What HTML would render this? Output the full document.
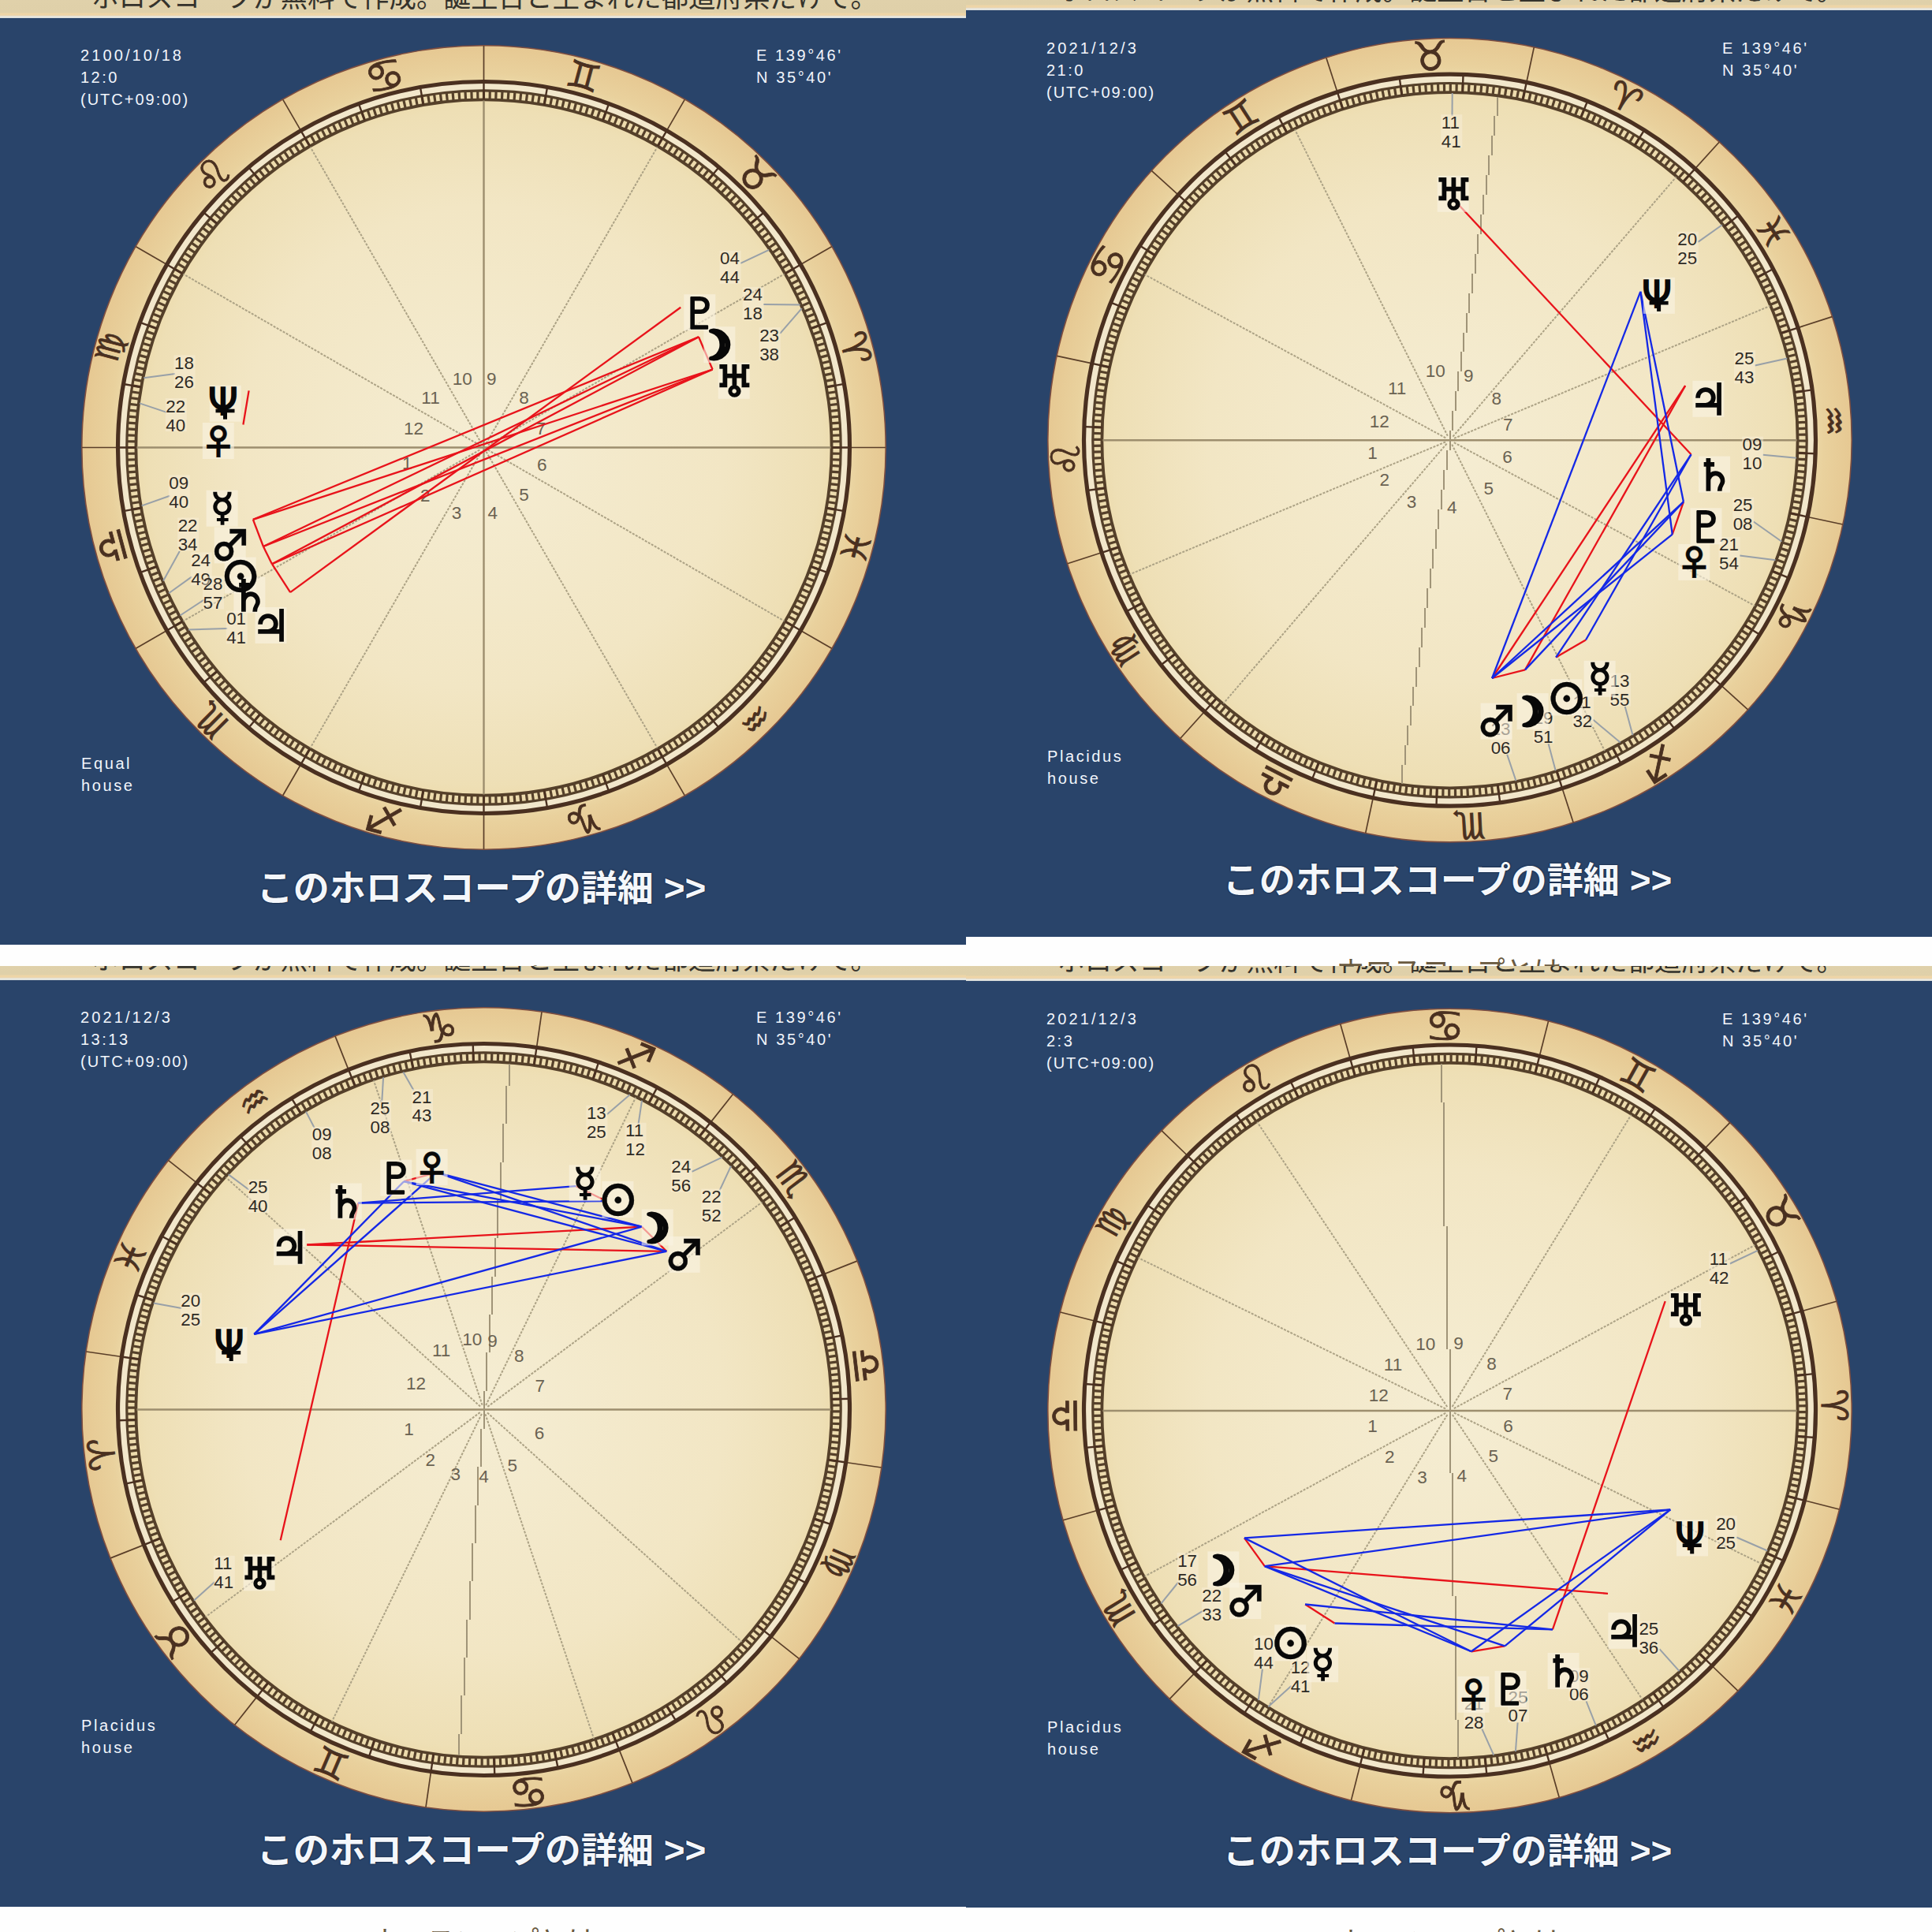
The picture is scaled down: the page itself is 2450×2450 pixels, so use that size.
<!DOCTYPE html><html><head><meta charset="utf-8"><style>

*{margin:0;padding:0;box-sizing:border-box}
html,body{width:2450px;height:2450px;overflow:hidden;background:#fff}
.q{position:absolute;width:1225px;height:1225px;overflow:hidden;background:#fefefe}
.strip{position:absolute;left:0;width:1225px;height:60px;background:linear-gradient(180deg,#e2d3ad 0px,#dfd0a9 53px,#eed6a8 54px,#efd4a5 56px,#e4dccb 57.5px,#eef0ea 58px,#eceee8 59.3px,#9aa0a6 60px);}
.strip span{position:absolute;left:116px;top:17.5px;font-family:"Liberation Sans","Noto Sans CJK JP",sans-serif;font-size:34.5px;line-height:1;color:#35332c;white-space:nowrap}
.panel{position:absolute;left:0;width:1225px;height:1175px;background:#29446a}
.t{position:absolute;font-family:"Liberation Sans",sans-serif;font-size:20px;line-height:28.2px;color:#f2f6fc;letter-spacing:2.6px;white-space:nowrap}
.dt{left:102px}.ll{left:959px}.hs{left:103px}
.lk{position:absolute;left:0;width:1225px;text-align:center;font-family:"Liberation Sans","Noto Sans CJK JP",sans-serif;font-weight:bold;font-size:46px;line-height:60px;color:#f4f7fb;white-space:nowrap;text-indent:-4px;text-shadow:0 0 2px #0c1830,0 0 1px #0c1830}
.below{position:absolute;left:0;width:1225px;text-align:center;font-family:"Liberation Sans","Noto Sans CJK JP",sans-serif;font-size:36px;line-height:46px;color:#6a5a40;white-space:nowrap}
.ch{position:absolute;left:0;top:0}
.zs{font-family:"DejaVu Sans",sans-serif;fill:#4a3020;stroke:#4a3020;stroke-width:0.8px}
.pg{font-family:"DejaVu Sans",sans-serif;fill:#080808;stroke:#080808;stroke-width:1.7px}
.pn{font-family:"Noto Sans CJK JP",sans-serif;font-weight:bold;stroke-width:0.4px}
.pm{stroke-width:5px;stroke-linejoin:round}
.lb{font-family:"Liberation Sans",sans-serif;font-size:22.3px;fill:#2e2a24}
.ld{stroke:#98a0a8;stroke-width:2}
.hl{stroke:#aca285;stroke-width:2;stroke-dasharray:3 1.6}
.ax{stroke:#9d8e6e;stroke-width:2.4}
.mc{stroke:#a09478;stroke-width:2;stroke-linejoin:miter}
.as{stroke-width:2.3}
.hn{font-family:"Liberation Sans",sans-serif;font-size:22.5px;fill:#6a6252;text-anchor:middle}
.lbg{fill:#f8f0dc;fill-opacity:0.45}
.gbg{fill:#faf3e2;fill-opacity:0.6}

</style></head><body>
<div class="q" style="left:0px;top:0px">
<div class="strip" style="top:-37.5px"><span>ホロスコープが無料で作成。誕生日と生まれた都道府県だけで。</span></div>
<div class="panel" style="top:22.5px"></div>
<div class="t dt" style="top:56px"><span style="letter-spacing:3.1px">2100/10/18</span><br><span style="letter-spacing:2.5px">12:0</span><br><span style="letter-spacing:2.0px">(UTC+09:00)</span></div>
<div class="t ll" style="top:56px">E 139°46'<br>N 35°40'</div>
<div class="t hs" style="top:954px">Equal<br>house</div>
<div class="lk" style="top:1095.5px">このホロスコープの詳細 &gt;&gt;</div>
<div class="below" style="top:1219.5px">ホロスコープとは</div>
<svg class="ch" width="1225" height="1225" viewBox="0 0 1225 1225" xmlns="http://www.w3.org/2000/svg">
<defs><radialGradient id="pga" cx="613.5" cy="567.5" r="510.5" gradientUnits="userSpaceOnUse"><stop offset="0" stop-color="#f5edd3"/><stop offset="0.6" stop-color="#f2e6c4"/><stop offset="0.84" stop-color="#eedfb5"/><stop offset="0.9" stop-color="#ecd9a8"/><stop offset="0.93" stop-color="#e9d19d"/><stop offset="1" stop-color="#e6c892"/></radialGradient></defs>
<circle cx="613.5" cy="567.5" r="509.7" fill="url(#pga)" stroke="#7e4e40" stroke-width="1.6"/>
<circle cx="613.5" cy="567.5" r="458.4" fill="none" stroke="#f2e7cb" stroke-width="9.3"/>
<line x1="1077.5" y1="567.5" x2="1123" y2="567.5" stroke="#5a3e28" stroke-width="1.7"/>
<line x1="1015.3" y1="335.5" x2="1054.7" y2="312.8" stroke="#5a3e28" stroke-width="1.7"/>
<line x1="845.5" y1="165.7" x2="868.2" y2="126.3" stroke="#5a3e28" stroke-width="1.7"/>
<line x1="613.5" y1="103.5" x2="613.5" y2="58" stroke="#5a3e28" stroke-width="1.7"/>
<line x1="381.5" y1="165.7" x2="358.8" y2="126.3" stroke="#5a3e28" stroke-width="1.7"/>
<line x1="211.7" y1="335.5" x2="172.3" y2="312.8" stroke="#5a3e28" stroke-width="1.7"/>
<line x1="149.5" y1="567.5" x2="104" y2="567.5" stroke="#5a3e28" stroke-width="1.7"/>
<line x1="211.7" y1="799.5" x2="172.3" y2="822.2" stroke="#5a3e28" stroke-width="1.7"/>
<line x1="381.5" y1="969.3" x2="358.7" y2="1008.7" stroke="#5a3e28" stroke-width="1.7"/>
<line x1="613.5" y1="1031.5" x2="613.5" y2="1077" stroke="#5a3e28" stroke-width="1.7"/>
<line x1="845.5" y1="969.3" x2="868.2" y2="1008.7" stroke="#5a3e28" stroke-width="1.7"/>
<line x1="1015.3" y1="799.5" x2="1054.7" y2="822.3" stroke="#5a3e28" stroke-width="1.7"/>
<circle cx="613.5" cy="567.5" r="464" fill="none" stroke="#4a3020" stroke-width="5.2"/>
<circle cx="613.5" cy="567.5" r="452.7" fill="none" stroke="#55402a" stroke-width="3.2"/>
<circle cx="613.5" cy="567.5" r="441.1" fill="none" stroke="#55402a" stroke-width="3.8"/>
<circle cx="613.5" cy="567.5" r="446.9" fill="none" stroke="#55402a" stroke-width="11.6" pathLength="3600" stroke-dasharray="4.1 5.9" stroke-dashoffset="2.05" transform="rotate(-0 613.5 567.5)"/>
<circle cx="613.5" cy="567.5" r="452.6" fill="none" stroke="#4a3020" stroke-width="22.9" pathLength="3600" stroke-dasharray="3 97" stroke-dashoffset="1.5" transform="rotate(-0 613.5 567.5)"/>
<text x="1064.5" y="458.4" font-size="46.8" transform="rotate(75 1085.4 441.1)" class="zs">♈︎</text>
<text x="936.1" y="241.1" font-size="51.4" transform="rotate(45 958.9 222.1)" class="zs">♉︎</text>
<text x="719.2" y="113.1" font-size="47.2" transform="rotate(15 739.9 95.6)" class="zs">♊︎</text>
<text x="462.4" y="115.8" font-size="56.1" transform="rotate(-15 487.1 95.6)" class="zs">♋︎</text>
<text x="245.5" y="241.1" font-size="51.4" transform="rotate(-45 268.1 222.1)" class="zs">♌︎</text>
<text x="123.4" y="452.6" font-size="41.1" transform="rotate(-75 141.6 441.1)" class="zs">♍︎</text>
<text x="119" y="712.2" font-size="51.4" transform="rotate(-105 141.6 693.9)" class="zs">♎︎</text>
<text x="247.8" y="927.8" font-size="45.7" transform="rotate(-135 268.1 912.9)" class="zs">♏︎</text>
<text x="464.2" y="1058.4" font-size="51.4" transform="rotate(-165 487.1 1039.4)" class="zs">♐︎</text>
<text x="717.3" y="1058.4" font-size="51.4" transform="rotate(-195 739.9 1039.4)" class="zs">♑︎</text>
<text x="939.5" y="929.3" font-size="43.7" transform="rotate(-225 958.9 912.9)" class="zs">♒︎</text>
<text x="1065.2" y="710.9" font-size="45.8" transform="rotate(-255 1085.4 693.9)" class="zs">♓︎</text>
<line x1="608.3" y1="570.5" x2="232.4" y2="787.6" class="hl"/>
<line x1="610.5" y1="572.7" x2="393.4" y2="948.6" class="hl"/>
<line x1="616.5" y1="572.7" x2="833.6" y2="948.6" class="hl"/>
<line x1="618.7" y1="570.5" x2="994.6" y2="787.6" class="hl"/>
<line x1="618.7" y1="564.5" x2="994.6" y2="347.5" class="hl"/>
<line x1="616.5" y1="562.3" x2="833.6" y2="186.4" class="hl"/>
<line x1="610.5" y1="562.3" x2="393.5" y2="186.4" class="hl"/>
<line x1="608.3" y1="564.5" x2="232.4" y2="347.5" class="hl"/>
<line x1="173.4" y1="567.5" x2="1053.6" y2="567.5" class="ax"/>
<line x1="613.5" y1="127.4" x2="613.5" y2="1007.6" class="ax"/>
<text x="516.3" y="594.5" class="hn">1</text>
<text x="539.2" y="635.5" class="hn">2</text>
<text x="579" y="658.4" class="hn">3</text>
<text x="624.7" y="658.4" class="hn">4</text>
<text x="664.4" y="634.8" class="hn">5</text>
<text x="687.3" y="596.5" class="hn">6</text>
<text x="686" y="551.4" class="hn">7</text>
<text x="664.4" y="511.8" class="hn">8</text>
<text x="623.3" y="488.2" class="hn">9</text>
<text x="586.3" y="488.2" class="hn">10</text>
<text x="546" y="511.8" class="hn">11</text>
<text x="524.4" y="550.8" class="hn">12</text>
<line x1="975.2" y1="316.8" x2="939.1" y2="333.9" class="ld"/>
<line x1="1014.6" y1="386.4" x2="968.1" y2="386" class="ld"/>
<line x1="1016.7" y1="391.1" x2="989.2" y2="422.8" class="ld"/>
<line x1="182.3" y1="479.2" x2="222" y2="474" class="ld"/>
<line x1="177" y1="511.4" x2="211.3" y2="522.9" class="ld"/>
<line x1="179.7" y1="641.4" x2="215.3" y2="628.8" class="ld"/>
<line x1="207.1" y1="736.4" x2="227.8" y2="699" class="ld"/>
<line x1="214.1" y1="752.2" x2="243.2" y2="731.4" class="ld"/>
<line x1="228.4" y1="780.5" x2="258.6" y2="760.7" class="ld"/>
<line x1="239" y1="798.6" x2="288.2" y2="796.9" class="ld"/>
<line x1="863.2" y1="389.8" x2="368.1" y2="751.1" stroke="#e8131b" class="as"/>
<line x1="886" y1="427.3" x2="320.9" y2="658.8" stroke="#e8131b" class="as"/>
<line x1="886" y1="427.3" x2="333.9" y2="693" stroke="#e8131b" class="as"/>
<line x1="886" y1="427.3" x2="344.9" y2="715.2" stroke="#e8131b" class="as"/>
<line x1="903.6" y1="468.5" x2="320.9" y2="658.8" stroke="#e8131b" class="as"/>
<line x1="903.6" y1="468.5" x2="333.9" y2="693" stroke="#e8131b" class="as"/>
<line x1="903.6" y1="468.5" x2="344.9" y2="715.2" stroke="#e8131b" class="as"/>
<line x1="886" y1="427.3" x2="903.6" y2="468.5" stroke="#e8131b" class="as"/>
<line x1="320.9" y1="658.8" x2="333.9" y2="693" stroke="#e8131b" class="as"/>
<line x1="333.9" y1="693" x2="344.9" y2="715.2" stroke="#e8131b" class="as"/>
<line x1="344.9" y1="715.2" x2="368.1" y2="751.1" stroke="#e8131b" class="as"/>
<line x1="315.6" y1="495.4" x2="308.4" y2="538.5" stroke="#e8131b" class="as"/>
<rect x="912.6" y="317.8" width="27" height="42" class="lbg"/>
<text x="913.1" y="335.3" class="lb">04<tspan x="913.1" dy="23.9">44</tspan></text>
<rect x="941.6" y="363.9" width="27" height="42" class="lbg"/>
<text x="942.1" y="381.4" class="lb">24<tspan x="942.1" dy="23.9">18</tspan></text>
<rect x="962.7" y="415.2" width="27" height="42" class="lbg"/>
<text x="963.2" y="432.7" class="lb">23<tspan x="963.2" dy="23.9">38</tspan></text>
<rect x="220.5" y="450.4" width="27" height="42" class="lbg"/>
<text x="221" y="467.9" class="lb">18<tspan x="221" dy="23.9">26</tspan></text>
<rect x="209.8" y="505.1" width="27" height="42" class="lbg"/>
<text x="210.3" y="522.6" class="lb">22<tspan x="210.3" dy="23.9">40</tspan></text>
<rect x="213.8" y="602.4" width="27" height="42" class="lbg"/>
<text x="214.3" y="619.9" class="lb">09<tspan x="214.3" dy="23.9">40</tspan></text>
<rect x="225.2" y="656.5" width="27" height="42" class="lbg"/>
<text x="225.7" y="674" class="lb">22<tspan x="225.7" dy="23.9">34</tspan></text>
<rect x="241.7" y="700.4" width="27" height="42" class="lbg"/>
<text x="242.2" y="717.9" class="lb">24<tspan x="242.2" dy="23.9">49</tspan></text>
<rect x="257.1" y="730.5" width="27" height="42" class="lbg"/>
<text x="257.6" y="748" class="lb">28<tspan x="257.6" dy="23.9">57</tspan></text>
<rect x="286.7" y="774.4" width="27" height="42" class="lbg"/>
<text x="287.2" y="791.9" class="lb">01<tspan x="287.2" dy="23.9">41</tspan></text>
<rect x="867.3" y="373.2" width="40" height="46" class="gbg"/>
<rect x="892.4" y="414.2" width="40" height="46" class="gbg"/>
<rect x="910.7" y="459.8" width="40" height="46" class="gbg"/>
<rect x="265.8" y="488.7" width="40" height="46" class="gbg"/>
<rect x="256.8" y="536" width="40" height="46" class="gbg"/>
<rect x="261.6" y="621.7" width="40" height="46" class="gbg"/>
<rect x="271.7" y="668.4" width="40" height="46" class="gbg"/>
<rect x="284.7" y="706.6" width="40" height="46" class="gbg"/>
<rect x="296.4" y="731.4" width="40" height="46" class="gbg"/>
<rect x="323.5" y="770" width="40" height="46" class="gbg"/>
<text x="862.9" y="416.5" font-size="54.9" class="pg">♇︎</text>
<text x="883.8" y="455.4" font-size="49.3" class="pg pm">☽︎</text>
<text x="906.6" y="503.1" font-size="54.9" class="pg">♅︎</text>
<text x="264.1" y="526.3" font-size="47.8" class="pg">Ψ</text>
<rect x="273.5" y="518.7" width="24" height="4.6" fill="#080808"/>
<rect x="283" y="517.7" width="5" height="14" fill="#080808"/>
<text x="254.3" y="576.5" font-size="45.4" class="pg pn">♀︎</text>
<text x="266.9" y="660.1" font-size="48.2" class="pg">☿︎</text>
<text x="266.2" y="711.1" font-size="52" class="pg pn">♂︎</text>
<text x="273.7" y="753.7" font-size="62.7" class="pg pn">☉︎</text>
<text x="292" y="774.7" font-size="54.9" class="pg">♄︎</text>
<text x="319.1" y="813.3" font-size="54.9" class="pg">♃︎</text>
</svg>
</div>
<div class="q" style="left:1225px;top:0px">
<div class="strip" style="top:-46.8px"><span>ホロスコープが無料で作成。誕生日と生まれた都道府県だけで。</span></div>
<div class="panel" style="top:13.2px"></div>
<div class="t dt" style="top:46.7px"><span style="letter-spacing:3.1px">2021/12/3</span><br><span style="letter-spacing:2.5px">21:0</span><br><span style="letter-spacing:2.0px">(UTC+09:00)</span></div>
<div class="t ll" style="top:46.7px">E 139°46'<br>N 35°40'</div>
<div class="t hs" style="top:944.7px">Placidus<br>house</div>
<div class="lk" style="top:1086.2px">このホロスコープの詳細 &gt;&gt;</div>
<div class="below" style="top:1210.2px">ホロスコープとは</div>
<svg class="ch" width="1225" height="1225" viewBox="0 0 1225 1225" xmlns="http://www.w3.org/2000/svg">
<defs><radialGradient id="pgb" cx="613.5" cy="558.2" r="510.5" gradientUnits="userSpaceOnUse"><stop offset="0" stop-color="#f5edd3"/><stop offset="0.6" stop-color="#f2e6c4"/><stop offset="0.84" stop-color="#eedfb5"/><stop offset="0.9" stop-color="#ecd9a8"/><stop offset="0.93" stop-color="#e9d19d"/><stop offset="1" stop-color="#e6c892"/></radialGradient></defs>
<circle cx="613.5" cy="558.2" r="509.7" fill="url(#pgb)" stroke="#7e4e40" stroke-width="1.6"/>
<circle cx="613.5" cy="558.2" r="458.4" fill="none" stroke="#f2e7cb" stroke-width="9.3"/>
<line x1="924.6" y1="213.9" x2="955.1" y2="180.2" stroke="#5a3e28" stroke-width="1.7"/>
<line x1="710.8" y1="104.5" x2="720.3" y2="60" stroke="#5a3e28" stroke-width="1.7"/>
<line x1="470.9" y1="116.7" x2="456.9" y2="73.4" stroke="#5a3e28" stroke-width="1.7"/>
<line x1="269.2" y1="247.1" x2="235.5" y2="216.6" stroke="#5a3e28" stroke-width="1.7"/>
<line x1="159.8" y1="460.9" x2="115.3" y2="451.4" stroke="#5a3e28" stroke-width="1.7"/>
<line x1="172" y1="700.8" x2="128.7" y2="714.8" stroke="#5a3e28" stroke-width="1.7"/>
<line x1="302.4" y1="902.5" x2="271.9" y2="936.2" stroke="#5a3e28" stroke-width="1.7"/>
<line x1="516.2" y1="1011.9" x2="506.7" y2="1056.4" stroke="#5a3e28" stroke-width="1.7"/>
<line x1="756.1" y1="999.7" x2="770.1" y2="1043" stroke="#5a3e28" stroke-width="1.7"/>
<line x1="957.8" y1="869.3" x2="991.5" y2="899.8" stroke="#5a3e28" stroke-width="1.7"/>
<line x1="1067.2" y1="655.5" x2="1111.7" y2="665" stroke="#5a3e28" stroke-width="1.7"/>
<line x1="1055" y1="415.6" x2="1098.3" y2="401.6" stroke="#5a3e28" stroke-width="1.7"/>
<circle cx="613.5" cy="558.2" r="464" fill="none" stroke="#4a3020" stroke-width="5.2"/>
<circle cx="613.5" cy="558.2" r="452.7" fill="none" stroke="#55402a" stroke-width="3.2"/>
<circle cx="613.5" cy="558.2" r="441.1" fill="none" stroke="#55402a" stroke-width="3.8"/>
<circle cx="613.5" cy="558.2" r="446.9" fill="none" stroke="#55402a" stroke-width="11.6" pathLength="3600" stroke-dasharray="4.1 5.9" stroke-dashoffset="2.05" transform="rotate(-47.9 613.5 558.2)"/>
<circle cx="613.5" cy="558.2" r="452.6" fill="none" stroke="#4a3020" stroke-width="22.9" pathLength="3600" stroke-dasharray="3 97" stroke-dashoffset="1.5" transform="rotate(-47.9 613.5 558.2)"/>
<text x="815.2" y="140.7" font-size="46.8" transform="rotate(27.1 836 123.3)" class="zs">♈︎</text>
<text x="565.9" y="89.3" font-size="51.4" transform="rotate(-2.9 588.8 70.3)" class="zs">♉︎</text>
<text x="327.4" y="165.5" font-size="47.2" transform="rotate(-32.9 348.2 148)" class="zs">♊︎</text>
<text x="154" y="355.8" font-size="56.1" transform="rotate(-62.9 178.6 335.7)" class="zs">♋︎</text>
<text x="103" y="601.9" font-size="51.4" transform="rotate(-92.9 125.6 582.9)" class="zs">♌︎</text>
<text x="185.1" y="835.1" font-size="41.1" transform="rotate(-122.9 203.3 823.5)" class="zs">♍︎</text>
<text x="368.4" y="1011.3" font-size="51.4" transform="rotate(-152.9 391 993.1)" class="zs">♎︎</text>
<text x="617.9" y="1060.9" font-size="45.7" transform="rotate(-182.9 638.2 1046.1)" class="zs">♏︎</text>
<text x="856" y="987.4" font-size="51.4" transform="rotate(-212.9 878.8 968.4)" class="zs">♐︎</text>
<text x="1025.8" y="799.7" font-size="51.4" transform="rotate(-242.9 1048.4 780.7)" class="zs">♑︎</text>
<text x="1081.9" y="549.9" font-size="43.7" transform="rotate(-272.9 1101.4 533.5)" class="zs">♒︎</text>
<text x="1003.5" y="309.8" font-size="45.8" transform="rotate(-302.9 1023.7 292.9)" class="zs">♓︎</text>
<line x1="608" y1="560.5" x2="207.6" y2="728.4" class="hl"/>
<line x1="609.6" y1="562.7" x2="326.5" y2="891.9" class="hl"/>
<line x1="616.2" y1="563.6" x2="809.9" y2="952.1" class="hl"/>
<line x1="618.8" y1="561.1" x2="1000.3" y2="768.2" class="hl"/>
<line x1="619" y1="555.9" x2="1019.4" y2="388" class="hl"/>
<line x1="617.4" y1="553.7" x2="900.5" y2="224.5" class="hl"/>
<line x1="610.8" y1="552.8" x2="417.1" y2="164.3" class="hl"/>
<line x1="608.2" y1="555.3" x2="226.7" y2="348.2" class="hl"/>
<line x1="173.4" y1="558.2" x2="1053.6" y2="558.2" class="ax"/>
<path d="M673.9 122.5V147M670.3 147V172M666.8 172V197M663.2 197V221.5M659.6 221.5V246.5M656.1 246.5V271.5M652.5 271.5V296.5M649 296.5V321.5M645.5 321.5V346.5M641.9 346.5V371.5M638.4 371.5V396.5M634.8 396.5V421.5M631.2 421.5V446M627.7 446V471M624.1 471V496M620.6 496V521M617 521V546M613.5 546V571M610 571V596M606.4 596V621M602.9 621V646M599.3 646V670.5M595.8 670.5V695.5M592.2 695.5V720.5M588.6 720.5V745.5M585.1 745.5V770.5M581.5 770.5V795.5M578 795.5V820.5M574.5 820.5V845.5M570.9 845.5V870.5M567.4 870.5V895M563.8 895V920M560.2 920V945M556.7 945V970M553.1 970V993.9" class="ax mc" fill="none" shape-rendering="crispEdges"/>
<text x="515.6" y="582.1" class="hn">1</text>
<text x="530.8" y="616.2" class="hn">2</text>
<text x="564.9" y="643.8" class="hn">3</text>
<text x="616.3" y="651" class="hn">4</text>
<text x="662.7" y="627.1" class="hn">5</text>
<text x="686.6" y="587.2" class="hn">6</text>
<text x="687.3" y="545.9" class="hn">7</text>
<text x="672.8" y="512.6" class="hn">8</text>
<text x="637.3" y="483.6" class="hn">9</text>
<text x="595.3" y="477.8" class="hn">10</text>
<text x="546.7" y="500.3" class="hn">11</text>
<text x="524.3" y="541.6" class="hn">12</text>
<line x1="616.7" y1="118.1" x2="616.5" y2="146.7" class="ld"/>
<line x1="958.8" y1="285.3" x2="928.3" y2="306.9" class="ld"/>
<line x1="1041.2" y1="454.6" x2="1000.5" y2="463.6" class="ld"/>
<line x1="1053" y1="580.7" x2="1010.6" y2="576.8" class="ld"/>
<line x1="1034.4" y1="686.7" x2="998.7" y2="661.5" class="ld"/>
<line x1="1026.5" y1="710.2" x2="981.1" y2="704.5" class="ld"/>
<line x1="845.5" y1="932.2" x2="835.7" y2="896" class="ld"/>
<line x1="829.7" y1="941.5" x2="795.4" y2="912.8" class="ld"/>
<line x1="747.7" y1="977.3" x2="738.6" y2="943.3" class="ld"/>
<line x1="697.5" y1="990.2" x2="686.2" y2="956.9" class="ld"/>
<line x1="617.3" y1="251.7" x2="919.5" y2="576.3" stroke="#e8131b" class="as"/>
<line x1="912.1" y1="489.1" x2="667.1" y2="860" stroke="#e8131b" class="as"/>
<line x1="912.1" y1="489.1" x2="709" y2="849.4" stroke="#e8131b" class="as"/>
<line x1="909.9" y1="636.3" x2="895.7" y2="677.7" stroke="#e8131b" class="as"/>
<line x1="786" y1="811.5" x2="748.1" y2="833.6" stroke="#e8131b" class="as"/>
<line x1="709" y1="849.4" x2="667.1" y2="860" stroke="#e8131b" class="as"/>
<line x1="855.3" y1="369.8" x2="667.1" y2="860" stroke="#1428e6" class="as"/>
<line x1="855.3" y1="369.8" x2="909.9" y2="636.3" stroke="#1428e6" class="as"/>
<line x1="855.3" y1="369.8" x2="895.7" y2="677.7" stroke="#1428e6" class="as"/>
<line x1="919.5" y1="576.3" x2="748.1" y2="833.6" stroke="#1428e6" class="as"/>
<line x1="919.5" y1="576.3" x2="786" y2="811.5" stroke="#1428e6" class="as"/>
<line x1="909.9" y1="636.3" x2="667.1" y2="860" stroke="#1428e6" class="as"/>
<line x1="909.9" y1="636.3" x2="709" y2="849.4" stroke="#1428e6" class="as"/>
<line x1="895.7" y1="677.7" x2="667.1" y2="860" stroke="#1428e6" class="as"/>
<rect x="602.3" y="145.2" width="27" height="42" class="lbg"/>
<text x="602.8" y="162.7" class="lb">11<tspan x="602.8" dy="23.9">41</tspan></text>
<rect x="901.8" y="293.7" width="27" height="42" class="lbg"/>
<text x="902.3" y="311.2" class="lb">20<tspan x="902.3" dy="23.9">25</tspan></text>
<rect x="974" y="444.4" width="27" height="42" class="lbg"/>
<text x="974.5" y="461.9" class="lb">25<tspan x="974.5" dy="23.9">43</tspan></text>
<rect x="984.1" y="553.6" width="27" height="42" class="lbg"/>
<text x="984.6" y="571.1" class="lb">09<tspan x="984.6" dy="23.9">10</tspan></text>
<rect x="972.2" y="630.7" width="27" height="42" class="lbg"/>
<text x="972.7" y="648.2" class="lb">25<tspan x="972.7" dy="23.9">08</tspan></text>
<rect x="954.6" y="680.9" width="27" height="42" class="lbg"/>
<text x="955.1" y="698.4" class="lb">21<tspan x="955.1" dy="23.9">54</tspan></text>
<rect x="816.1" y="853.5" width="27" height="42" class="lbg"/>
<text x="816.6" y="871" class="lb">13<tspan x="816.6" dy="23.9">55</tspan></text>
<rect x="768.9" y="880.3" width="27" height="42" class="lbg"/>
<text x="769.4" y="897.8" class="lb">11<tspan x="769.4" dy="23.9">32</tspan></text>
<rect x="719.2" y="900.8" width="27" height="42" class="lbg"/>
<text x="719.7" y="918.3" class="lb">29<tspan x="719.7" dy="23.9">51</tspan></text>
<rect x="665.2" y="914.4" width="27" height="42" class="lbg"/>
<text x="665.7" y="931.9" class="lb">23<tspan x="665.7" dy="23.9">06</tspan></text>
<rect x="597.7" y="222.8" width="40" height="46" class="gbg"/>
<rect x="858.9" y="351.9" width="40" height="46" class="gbg"/>
<rect x="921.4" y="482.8" width="40" height="46" class="gbg"/>
<rect x="929" y="578.6" width="40" height="46" class="gbg"/>
<rect x="918.5" y="644.3" width="40" height="46" class="gbg"/>
<rect x="903.3" y="689.9" width="40" height="46" class="gbg"/>
<rect x="783.6" y="837.8" width="40" height="46" class="gbg"/>
<rect x="741.4" y="861.4" width="40" height="46" class="gbg"/>
<rect x="698.6" y="879.1" width="40" height="46" class="gbg"/>
<rect x="652.6" y="891.6" width="40" height="46" class="gbg"/>
<text x="593.6" y="266.1" font-size="54.9" class="pg">♅︎</text>
<text x="857.2" y="389.5" font-size="47.8" class="pg">Ψ</text>
<rect x="866.6" y="381.9" width="24" height="4.6" fill="#080808"/>
<rect x="876.1" y="380.9" width="5" height="14" fill="#080808"/>
<text x="917" y="526.1" font-size="54.9" class="pg">♃︎</text>
<text x="924.6" y="621.9" font-size="54.9" class="pg">♄︎</text>
<text x="914.1" y="687.6" font-size="54.9" class="pg">♇︎</text>
<text x="900.8" y="730.4" font-size="45.4" class="pg pn">♀︎</text>
<text x="788.9" y="876.2" font-size="48.2" class="pg">☿︎</text>
<text x="730.4" y="908.5" font-size="62.7" class="pg pn">☉︎</text>
<text x="690" y="920.3" font-size="49.3" class="pg pm">☽︎</text>
<text x="647.1" y="934.4" font-size="52" class="pg pn">♂︎</text>
</svg>
</div>
<div class="q" style="left:0px;top:1225px">
<div class="strip" style="top:-42.5px"><span>ホロスコープが無料で作成。誕生日と生まれた都道府県だけで。</span></div>
<div class="panel" style="top:17.5px"></div>
<div class="t dt" style="top:51px"><span style="letter-spacing:3.1px">2021/12/3</span><br><span style="letter-spacing:2.5px">13:13</span><br><span style="letter-spacing:2.0px">(UTC+09:00)</span></div>
<div class="t ll" style="top:51px">E 139°46'<br>N 35°40'</div>
<div class="t hs" style="top:949px">Placidus<br>house</div>
<div class="lk" style="top:1090.5px">このホロスコープの詳細 &gt;&gt;</div>
<div class="below" style="top:1214.5px">ホロスコープとは</div>
<svg class="ch" width="1225" height="1225" viewBox="0 0 1225 1225" xmlns="http://www.w3.org/2000/svg">
<defs><radialGradient id="pgc" cx="613.5" cy="562.5" r="510.5" gradientUnits="userSpaceOnUse"><stop offset="0" stop-color="#f5edd3"/><stop offset="0.6" stop-color="#f2e6c4"/><stop offset="0.84" stop-color="#eedfb5"/><stop offset="0.9" stop-color="#ecd9a8"/><stop offset="0.93" stop-color="#e9d19d"/><stop offset="1" stop-color="#e6c892"/></radialGradient></defs>
<circle cx="613.5" cy="562.5" r="509.7" fill="url(#pgc)" stroke="#7e4e40" stroke-width="1.6"/>
<circle cx="613.5" cy="562.5" r="458.4" fill="none" stroke="#f2e7cb" stroke-width="9.3"/>
<line x1="154.4" y1="495.5" x2="109.3" y2="489" stroke="#5a3e28" stroke-width="1.7"/>
<line x1="182.4" y1="734.1" x2="140.1" y2="750.9" stroke="#5a3e28" stroke-width="1.7"/>
<line x1="325.9" y1="926.6" x2="297.7" y2="962.3" stroke="#5a3e28" stroke-width="1.7"/>
<line x1="546.5" y1="1021.6" x2="540" y2="1066.7" stroke="#5a3e28" stroke-width="1.7"/>
<line x1="785.1" y1="993.6" x2="801.9" y2="1035.9" stroke="#5a3e28" stroke-width="1.7"/>
<line x1="977.6" y1="850.1" x2="1013.3" y2="878.3" stroke="#5a3e28" stroke-width="1.7"/>
<line x1="1072.6" y1="629.5" x2="1117.7" y2="636" stroke="#5a3e28" stroke-width="1.7"/>
<line x1="1044.6" y1="390.9" x2="1086.9" y2="374.1" stroke="#5a3e28" stroke-width="1.7"/>
<line x1="901.1" y1="198.4" x2="929.3" y2="162.7" stroke="#5a3e28" stroke-width="1.7"/>
<line x1="680.5" y1="103.4" x2="687" y2="58.3" stroke="#5a3e28" stroke-width="1.7"/>
<line x1="441.9" y1="131.4" x2="425.1" y2="89.1" stroke="#5a3e28" stroke-width="1.7"/>
<line x1="249.4" y1="274.9" x2="213.7" y2="246.7" stroke="#5a3e28" stroke-width="1.7"/>
<circle cx="613.5" cy="562.5" r="464" fill="none" stroke="#4a3020" stroke-width="5.2"/>
<circle cx="613.5" cy="562.5" r="452.7" fill="none" stroke="#55402a" stroke-width="3.2"/>
<circle cx="613.5" cy="562.5" r="441.1" fill="none" stroke="#55402a" stroke-width="3.8"/>
<circle cx="613.5" cy="562.5" r="446.9" fill="none" stroke="#55402a" stroke-width="11.6" pathLength="3600" stroke-dasharray="4.1 5.9" stroke-dashoffset="2.05" transform="rotate(-171.7 613.5 562.5)"/>
<circle cx="613.5" cy="562.5" r="452.6" fill="none" stroke="#4a3020" stroke-width="22.9" pathLength="3600" stroke-dasharray="3 97" stroke-dashoffset="1.5" transform="rotate(-171.7 613.5 562.5)"/>
<text x="107.5" y="636.8" font-size="46.8" transform="rotate(-96.7 128.3 619.5)" class="zs">♈︎</text>
<text x="199" y="873.5" font-size="51.4" transform="rotate(-126.7 221.8 854.4)" class="zs">♉︎</text>
<text x="399.5" y="1028.6" font-size="47.2" transform="rotate(-156.7 420.3 1011.2)" class="zs">♊︎</text>
<text x="645.8" y="1067.8" font-size="56.1" transform="rotate(-186.7 670.5 1047.7)" class="zs">♋︎</text>
<text x="882.8" y="973.2" font-size="51.4" transform="rotate(-216.7 905.4 954.2)" class="zs">♌︎</text>
<text x="1043.9" y="767.2" font-size="41.1" transform="rotate(-246.7 1062.2 755.7)" class="zs">♍︎</text>
<text x="1076.1" y="523.7" font-size="51.4" transform="rotate(-276.7 1098.7 505.5)" class="zs">♎︎</text>
<text x="984.8" y="285.4" font-size="45.7" transform="rotate(-306.7 1005.2 270.6)" class="zs">♏︎</text>
<text x="783.9" y="132.9" font-size="51.4" transform="rotate(-336.7 806.7 113.8)" class="zs">♐︎</text>
<text x="533.9" y="96.4" font-size="51.4" transform="rotate(-366.7 556.5 77.3)" class="zs">♑︎</text>
<text x="302.1" y="187.2" font-size="43.7" transform="rotate(-396.7 321.6 170.8)" class="zs">♒︎</text>
<text x="144.7" y="386.2" font-size="45.8" transform="rotate(-426.7 164.8 369.3)" class="zs">♓︎</text>
<line x1="608.7" y1="566.1" x2="260.6" y2="825.5" class="hl"/>
<line x1="610.9" y1="567.9" x2="420.9" y2="958.2" class="hl"/>
<line x1="615.4" y1="568.2" x2="753.1" y2="979.9" class="hl"/>
<line x1="618" y1="566.5" x2="940.6" y2="857" class="hl"/>
<line x1="618.3" y1="558.9" x2="966.4" y2="299.5" class="hl"/>
<line x1="616.1" y1="557.1" x2="806.1" y2="166.8" class="hl"/>
<line x1="611.6" y1="556.8" x2="473.9" y2="145.1" class="hl"/>
<line x1="609" y1="558.5" x2="286.4" y2="268" class="hl"/>
<line x1="173.4" y1="562.5" x2="1053.6" y2="562.5" class="ax"/>
<path d="M645.5 123.6V152.1M641.9 152.1V200.1M638.4 200.1V248.6M634.8 248.6V297.1M631.2 297.1V345.1M627.7 345.1V393.6M624.1 393.6V442.1M620.6 442.1V490.1M617 490.1V538.6M613.5 538.6V587.1M610 587.1V635.1M606.4 635.1V683.6M602.9 683.6V732.1M599.3 732.1V780.1M595.8 780.1V828.6M592.2 828.6V877.1M588.6 877.1V925.1M585.1 925.1V973.6M581.5 973.6V1001.4" class="ax mc" fill="none" shape-rendering="crispEdges"/>
<text x="518.4" y="595.1" class="hn">1</text>
<text x="545.7" y="634.2" class="hn">2</text>
<text x="577.8" y="652.4" class="hn">3</text>
<text x="613.5" y="655.2" class="hn">4</text>
<text x="649.8" y="641.2" class="hn">5</text>
<text x="684" y="600" class="hn">6</text>
<text x="684.7" y="539.9" class="hn">7</text>
<text x="658.2" y="501.5" class="hn">8</text>
<text x="624.6" y="482.6" class="hn">9</text>
<text x="598.8" y="481.2" class="hn">10</text>
<text x="559.7" y="495.2" class="hn">11</text>
<text x="527.5" y="537.1" class="hn">12</text>
<line x1="246" y1="804.6" x2="272.3" y2="781" class="ld"/>
<line x1="194.7" y1="427.4" x2="230.3" y2="434.1" class="ld"/>
<line x1="289.7" y1="264.4" x2="315.7" y2="283.7" class="ld"/>
<line x1="388" y1="184.6" x2="398.7" y2="205.3" class="ld"/>
<line x1="486.1" y1="141.3" x2="484.3" y2="171.7" class="ld"/>
<line x1="511.4" y1="134.4" x2="524.5" y2="157.5" class="ld"/>
<line x1="798.7" y1="163.2" x2="769.9" y2="188" class="ld"/>
<line x1="814" y1="170.7" x2="809.6" y2="200.2" class="ld"/>
<line x1="915.7" y1="242.6" x2="877.3" y2="260.8" class="ld"/>
<line x1="927" y1="253.6" x2="912.8" y2="284.1" class="ld"/>
<line x1="355.7" y1="728.3" x2="454.3" y2="300.6" stroke="#e8131b" class="as"/>
<line x1="389.3" y1="353.5" x2="845.2" y2="361.8" stroke="#e8131b" class="as"/>
<line x1="389.3" y1="353.5" x2="814" y2="330.7" stroke="#e8131b" class="as"/>
<line x1="512.2" y1="273.2" x2="553.7" y2="261.9" stroke="#e8131b" class="as"/>
<line x1="730.4" y1="279.2" x2="768.4" y2="298" stroke="#e8131b" class="as"/>
<line x1="814" y1="330.7" x2="845.2" y2="361.8" stroke="#e8131b" class="as"/>
<line x1="322.3" y1="466.9" x2="845.2" y2="361.8" stroke="#1428e6" class="as"/>
<line x1="322.3" y1="466.9" x2="814" y2="330.7" stroke="#1428e6" class="as"/>
<line x1="322.3" y1="466.9" x2="512.2" y2="273.2" stroke="#1428e6" class="as"/>
<line x1="322.3" y1="466.9" x2="553.7" y2="261.9" stroke="#1428e6" class="as"/>
<line x1="454.3" y1="300.6" x2="768.4" y2="298" stroke="#1428e6" class="as"/>
<line x1="454.3" y1="300.6" x2="730.4" y2="279.2" stroke="#1428e6" class="as"/>
<line x1="512.2" y1="273.2" x2="845.2" y2="361.8" stroke="#1428e6" class="as"/>
<line x1="512.2" y1="273.2" x2="814" y2="330.7" stroke="#1428e6" class="as"/>
<line x1="553.7" y1="261.9" x2="845.2" y2="361.8" stroke="#1428e6" class="as"/>
<line x1="553.7" y1="261.9" x2="814" y2="330.7" stroke="#1428e6" class="as"/>
<rect x="270.8" y="747.8" width="27" height="42" class="lbg"/>
<text x="271.3" y="765.3" class="lb">11<tspan x="271.3" dy="23.9">41</tspan></text>
<rect x="228.8" y="414.5" width="27" height="42" class="lbg"/>
<text x="229.3" y="432" class="lb">20<tspan x="229.3" dy="23.9">25</tspan></text>
<rect x="314.2" y="270.9" width="27" height="42" class="lbg"/>
<text x="314.7" y="288.4" class="lb">25<tspan x="314.7" dy="23.9">40</tspan></text>
<rect x="395.3" y="203.8" width="27" height="42" class="lbg"/>
<text x="395.8" y="221.3" class="lb">09<tspan x="395.8" dy="23.9">08</tspan></text>
<rect x="469.1" y="170.2" width="27" height="42" class="lbg"/>
<text x="469.6" y="187.7" class="lb">25<tspan x="469.6" dy="23.9">08</tspan></text>
<rect x="522.1" y="156" width="27" height="42" class="lbg"/>
<text x="522.6" y="173.5" class="lb">21<tspan x="522.6" dy="23.9">43</tspan></text>
<rect x="743.4" y="176.7" width="27" height="42" class="lbg"/>
<text x="743.9" y="194.2" class="lb">13<tspan x="743.9" dy="23.9">25</tspan></text>
<rect x="792.5" y="198.7" width="27" height="42" class="lbg"/>
<text x="793" y="216.2" class="lb">11<tspan x="793" dy="23.9">12</tspan></text>
<rect x="850.8" y="244.7" width="27" height="42" class="lbg"/>
<text x="851.3" y="262.2" class="lb">24<tspan x="851.3" dy="23.9">56</tspan></text>
<rect x="889.3" y="282.6" width="27" height="42" class="lbg"/>
<text x="889.8" y="300.1" class="lb">22<tspan x="889.8" dy="23.9">52</tspan></text>
<rect x="418.8" y="275.5" width="40" height="46" class="gbg"/>
<rect x="482.3" y="245.6" width="40" height="46" class="gbg"/>
<rect x="527.6" y="232" width="40" height="46" class="gbg"/>
<rect x="721.7" y="252.3" width="40" height="46" class="gbg"/>
<rect x="763.4" y="273" width="40" height="46" class="gbg"/>
<rect x="813.7" y="308.5" width="40" height="46" class="gbg"/>
<rect x="847.6" y="342.9" width="40" height="46" class="gbg"/>
<rect x="347" y="333.3" width="40" height="46" class="gbg"/>
<rect x="273.5" y="458" width="40" height="46" class="gbg"/>
<rect x="308.6" y="746.3" width="40" height="46" class="gbg"/>
<text x="414.4" y="318.8" font-size="54.9" class="pg">♄︎</text>
<text x="477.9" y="288.9" font-size="54.9" class="pg">♇︎</text>
<text x="525.1" y="272.5" font-size="45.4" class="pg pn">♀︎</text>
<text x="727" y="290.7" font-size="48.2" class="pg">☿︎</text>
<text x="752.4" y="320.1" font-size="62.7" class="pg pn">☉︎</text>
<text x="805.1" y="349.7" font-size="49.3" class="pg pm">☽︎</text>
<text x="842.1" y="385.6" font-size="52" class="pg pn">♂︎</text>
<text x="342.6" y="376.6" font-size="54.9" class="pg">♃︎</text>
<text x="271.8" y="495.6" font-size="47.8" class="pg">Ψ</text>
<rect x="281.2" y="488" width="24" height="4.6" fill="#080808"/>
<rect x="290.7" y="487" width="5" height="14" fill="#080808"/>
<text x="304.5" y="789.6" font-size="54.9" class="pg">♅︎</text>
</svg>
</div>
<div class="q" style="left:1225px;top:1225px">
<div class="strip" style="top:-41px"><span>ホロスコープが無料で作成。誕生日と生まれた都道府県だけで。</span></div>
<div class="panel" style="top:19px"></div>
<div class="t dt" style="top:52.5px"><span style="letter-spacing:3.1px">2021/12/3</span><br><span style="letter-spacing:2.5px">2:3</span><br><span style="letter-spacing:2.0px">(UTC+09:00)</span></div>
<div class="t ll" style="top:52.5px">E 139°46'<br>N 35°40'</div>
<div class="t hs" style="top:950.5px">Placidus<br>house</div>
<div class="lk" style="top:1092px">このホロスコープの詳細 &gt;&gt;</div>
<div class="below" style="top:1216px">ホロスコープとは</div>
<svg class="ch" width="1225" height="1225" viewBox="0 0 1225 1225" xmlns="http://www.w3.org/2000/svg">
<defs><radialGradient id="pgd" cx="613.5" cy="564" r="510.5" gradientUnits="userSpaceOnUse"><stop offset="0" stop-color="#f5edd3"/><stop offset="0.6" stop-color="#f2e6c4"/><stop offset="0.84" stop-color="#eedfb5"/><stop offset="0.9" stop-color="#ecd9a8"/><stop offset="0.93" stop-color="#e9d19d"/><stop offset="1" stop-color="#e6c892"/></radialGradient></defs>
<circle cx="613.5" cy="564" r="509.7" fill="url(#pgd)" stroke="#7e4e40" stroke-width="1.6"/>
<circle cx="613.5" cy="564" r="458.4" fill="none" stroke="#f2e7cb" stroke-width="9.3"/>
<line x1="1063.3" y1="677.8" x2="1107.4" y2="689" stroke="#5a3e28" stroke-width="1.7"/>
<line x1="1060" y1="437.7" x2="1103.8" y2="425.3" stroke="#5a3e28" stroke-width="1.7"/>
<line x1="937" y1="231.4" x2="968.7" y2="198.7" stroke="#5a3e28" stroke-width="1.7"/>
<line x1="727.3" y1="114.2" x2="738.5" y2="70.1" stroke="#5a3e28" stroke-width="1.7"/>
<line x1="487.2" y1="117.5" x2="474.8" y2="73.7" stroke="#5a3e28" stroke-width="1.7"/>
<line x1="280.9" y1="240.5" x2="248.2" y2="208.8" stroke="#5a3e28" stroke-width="1.7"/>
<line x1="163.7" y1="450.2" x2="119.6" y2="439" stroke="#5a3e28" stroke-width="1.7"/>
<line x1="167" y1="690.3" x2="123.2" y2="702.7" stroke="#5a3e28" stroke-width="1.7"/>
<line x1="290" y1="896.6" x2="258.3" y2="929.3" stroke="#5a3e28" stroke-width="1.7"/>
<line x1="499.7" y1="1013.8" x2="488.5" y2="1057.9" stroke="#5a3e28" stroke-width="1.7"/>
<line x1="739.8" y1="1010.5" x2="752.2" y2="1054.3" stroke="#5a3e28" stroke-width="1.7"/>
<line x1="946.1" y1="887.5" x2="978.8" y2="919.2" stroke="#5a3e28" stroke-width="1.7"/>
<circle cx="613.5" cy="564" r="464" fill="none" stroke="#4a3020" stroke-width="5.2"/>
<circle cx="613.5" cy="564" r="452.7" fill="none" stroke="#55402a" stroke-width="3.2"/>
<circle cx="613.5" cy="564" r="441.1" fill="none" stroke="#55402a" stroke-width="3.8"/>
<circle cx="613.5" cy="564" r="446.9" fill="none" stroke="#55402a" stroke-width="11.6" pathLength="3600" stroke-dasharray="4.1 5.9" stroke-dashoffset="2.05" transform="rotate(-345.8 613.5 564)"/>
<circle cx="613.5" cy="564" r="452.6" fill="none" stroke="#4a3020" stroke-width="22.9" pathLength="3600" stroke-dasharray="3 97" stroke-dashoffset="1.5" transform="rotate(-345.8 613.5 564)"/>
<text x="1081.1" y="574.5" font-size="46.8" transform="rotate(-270.8 1102 557.2)" class="zs">♈︎</text>
<text x="1010.2" y="332.9" font-size="51.4" transform="rotate(-300.8 1033.1 313.9)" class="zs">♉︎</text>
<text x="831" y="155" font-size="47.2" transform="rotate(-330.8 851.8 137.6)" class="zs">♊︎</text>
<text x="582" y="95.7" font-size="56.1" transform="rotate(-360.8 606.7 75.5)" class="zs">♋︎</text>
<text x="340.8" y="163.4" font-size="51.4" transform="rotate(-390.8 363.4 144.4)" class="zs">♌︎</text>
<text x="168.8" y="337.2" font-size="41.1" transform="rotate(-420.8 187.1 325.7)" class="zs">♍︎</text>
<text x="102.4" y="589.1" font-size="51.4" transform="rotate(-450.8 125 570.8)" class="zs">♎︎</text>
<text x="173.6" y="829" font-size="45.7" transform="rotate(-480.8 193.9 814.1)" class="zs">♏︎</text>
<text x="352.3" y="1009.4" font-size="51.4" transform="rotate(-510.8 375.2 990.4)" class="zs">♐︎</text>
<text x="597.7" y="1071.5" font-size="51.4" transform="rotate(-540.8 620.3 1052.5)" class="zs">♑︎</text>
<text x="844.2" y="1000" font-size="43.7" transform="rotate(-570.8 863.6 983.6)" class="zs">♒︎</text>
<text x="1019.8" y="819.3" font-size="45.8" transform="rotate(-600.8 1039.9 802.3)" class="zs">♓︎</text>
<line x1="608.2" y1="566.9" x2="226.7" y2="774" class="hl"/>
<line x1="610.4" y1="569.1" x2="383.5" y2="939.2" class="hl"/>
<line x1="616.8" y1="569" x2="857.7" y2="930.1" class="hl"/>
<line x1="618.9" y1="566.6" x2="1008.6" y2="758" class="hl"/>
<line x1="618.8" y1="561.1" x2="1000.3" y2="354" class="hl"/>
<line x1="616.6" y1="558.9" x2="843.5" y2="188.8" class="hl"/>
<line x1="610.2" y1="559" x2="369.3" y2="197.9" class="hl"/>
<line x1="608.1" y1="561.4" x2="218.4" y2="370" class="hl"/>
<line x1="173.4" y1="564" x2="1053.6" y2="564" class="ax"/>
<path d="M602.9 124V173M606.4 173V329.5M610 329.5V486M613.5 486V642.5M617 642.5V799M620.6 799V955.5M624.1 955.5V1004" class="ax mc" fill="none" shape-rendering="crispEdges"/>
<text x="515.6" y="590.8" class="hn">1</text>
<text x="537.3" y="629.9" class="hn">2</text>
<text x="578.5" y="655.8" class="hn">3</text>
<text x="628.8" y="653.7" class="hn">4</text>
<text x="668.7" y="628.5" class="hn">5</text>
<text x="687.5" y="590.8" class="hn">6</text>
<text x="686.8" y="550.3" class="hn">7</text>
<text x="666.6" y="511.9" class="hn">8</text>
<text x="624.6" y="486" class="hn">9</text>
<text x="582.7" y="487.4" class="hn">10</text>
<text x="541.5" y="513.3" class="hn">11</text>
<text x="523.3" y="551.7" class="hn">12</text>
<line x1="1003.9" y1="360.8" x2="968.7" y2="377.5" class="ld"/>
<line x1="1016.2" y1="741.5" x2="977.2" y2="724.5" class="ld"/>
<line x1="904.5" y1="894.1" x2="879.4" y2="866.2" class="ld"/>
<line x1="798.8" y1="963.2" x2="786.6" y2="932.5" class="ld"/>
<line x1="696.9" y1="996.1" x2="699.6" y2="959.5" class="ld"/>
<line x1="669.2" y1="1000.6" x2="654.4" y2="967.6" class="ld"/>
<line x1="383.4" y1="939.2" x2="412.7" y2="912.8" class="ld"/>
<line x1="370.8" y1="931.1" x2="375.9" y2="891.6" class="ld"/>
<line x1="268.4" y1="837.1" x2="300.3" y2="817.8" class="ld"/>
<line x1="247.5" y1="808.4" x2="269.2" y2="781.5" class="ld"/>
<line x1="886.7" y1="425.1" x2="743.9" y2="841.4" stroke="#e8131b" class="as"/>
<line x1="814" y1="795.8" x2="378.8" y2="761.1" stroke="#e8131b" class="as"/>
<line x1="683.3" y1="862.4" x2="640.7" y2="869.3" stroke="#e8131b" class="as"/>
<line x1="467.5" y1="833.5" x2="430.1" y2="809.5" stroke="#e8131b" class="as"/>
<line x1="378.8" y1="761.1" x2="353" y2="725.4" stroke="#e8131b" class="as"/>
<line x1="893.2" y1="689.4" x2="683.3" y2="862.4" stroke="#1428e6" class="as"/>
<line x1="893.2" y1="689.4" x2="640.7" y2="869.3" stroke="#1428e6" class="as"/>
<line x1="893.2" y1="689.4" x2="378.8" y2="761.1" stroke="#1428e6" class="as"/>
<line x1="893.2" y1="689.4" x2="353" y2="725.4" stroke="#1428e6" class="as"/>
<line x1="743.9" y1="841.4" x2="467.5" y2="833.5" stroke="#1428e6" class="as"/>
<line x1="743.9" y1="841.4" x2="430.1" y2="809.5" stroke="#1428e6" class="as"/>
<line x1="683.3" y1="862.4" x2="378.8" y2="761.1" stroke="#1428e6" class="as"/>
<line x1="640.7" y1="869.3" x2="378.8" y2="761.1" stroke="#1428e6" class="as"/>
<line x1="640.7" y1="869.3" x2="353" y2="725.4" stroke="#1428e6" class="as"/>
<rect x="942.2" y="361.5" width="27" height="42" class="lbg"/>
<text x="942.7" y="379" class="lb">11<tspan x="942.7" dy="23.9">42</tspan></text>
<rect x="950.7" y="697.1" width="27" height="42" class="lbg"/>
<text x="951.2" y="714.6" class="lb">20<tspan x="951.2" dy="23.9">25</tspan></text>
<rect x="852.9" y="830.3" width="27" height="42" class="lbg"/>
<text x="853.4" y="847.8" class="lb">25<tspan x="853.4" dy="23.9">36</tspan></text>
<rect x="764.4" y="890" width="27" height="42" class="lbg"/>
<text x="764.9" y="907.5" class="lb">09<tspan x="764.9" dy="23.9">06</tspan></text>
<rect x="687.1" y="917" width="27" height="42" class="lbg"/>
<text x="687.6" y="934.5" class="lb">25<tspan x="687.6" dy="23.9">07</tspan></text>
<rect x="631.2" y="925.1" width="27" height="42" class="lbg"/>
<text x="631.7" y="942.6" class="lb">21<tspan x="631.7" dy="23.9">28</tspan></text>
<rect x="411.2" y="879.5" width="27" height="42" class="lbg"/>
<text x="411.7" y="897" class="lb">12<tspan x="411.7" dy="23.9">41</tspan></text>
<rect x="364.6" y="849.1" width="27" height="42" class="lbg"/>
<text x="365.1" y="866.6" class="lb">10<tspan x="365.1" dy="23.9">44</tspan></text>
<rect x="298.8" y="788.2" width="27" height="42" class="lbg"/>
<text x="299.3" y="805.7" class="lb">22<tspan x="299.3" dy="23.9">33</tspan></text>
<rect x="267.7" y="744.1" width="27" height="42" class="lbg"/>
<text x="268.2" y="761.6" class="lb">17<tspan x="268.2" dy="23.9">56</tspan></text>
<rect x="892.1" y="412.7" width="40" height="46" class="gbg"/>
<rect x="901" y="702.4" width="40" height="46" class="gbg"/>
<rect x="814.4" y="819.8" width="40" height="46" class="gbg"/>
<rect x="737.6" y="871" width="40" height="46" class="gbg"/>
<rect x="670.5" y="893.8" width="40" height="46" class="gbg"/>
<rect x="623.5" y="900.8" width="40" height="46" class="gbg"/>
<rect x="432.2" y="862.3" width="40" height="46" class="gbg"/>
<rect x="391.2" y="835.3" width="40" height="46" class="gbg"/>
<rect x="334.3" y="782.1" width="40" height="46" class="gbg"/>
<rect x="306.4" y="742.4" width="40" height="46" class="gbg"/>
<text x="888" y="456" font-size="54.9" class="pg">♅︎</text>
<text x="899.3" y="740" font-size="47.8" class="pg">Ψ</text>
<rect x="908.7" y="732.4" width="24" height="4.6" fill="#080808"/>
<rect x="918.2" y="731.4" width="5" height="14" fill="#080808"/>
<text x="810" y="863.1" font-size="54.9" class="pg">♃︎</text>
<text x="733.2" y="914.3" font-size="54.9" class="pg">♄︎</text>
<text x="666.1" y="937.1" font-size="54.9" class="pg">♇︎</text>
<text x="621" y="941.3" font-size="45.4" class="pg pn">♀︎</text>
<text x="437.5" y="900.7" font-size="48.2" class="pg">☿︎</text>
<text x="380.2" y="882.4" font-size="62.7" class="pg pn">☉︎</text>
<text x="328.8" y="824.9" font-size="52" class="pg pn">♂︎</text>
<text x="297.8" y="783.6" font-size="49.3" class="pg pm">☽︎</text>
</svg>
</div>
</body></html>
